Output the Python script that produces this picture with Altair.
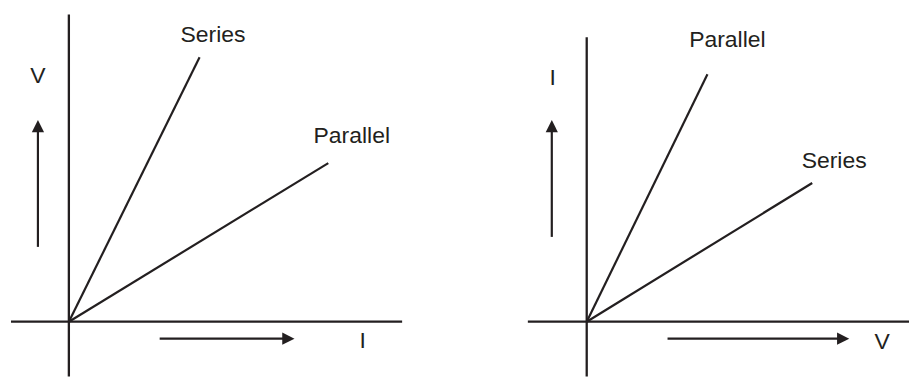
import altair as alt
import pandas as pd

INK = "#231f20"
FONT = "Liberation Sans"

# ---------- left panel: V plotted against I ----------
L_series_I = [0, 13.1]
L_series_V = [0, 26.5]
L_parallel_I = [0, 26.0]
L_parallel_V = [0, 15.9]
L_domain_x = [-6.1, 39.1]
L_domain_y = [-5.5, 31.4]
L_haxis = [-5.8, 33.4]
L_vaxis = [-5.5, 30.8]
L_up_x = -3.1
L_up = [7.5, 20.2]
L_right_y = -1.7
L_right = [9.1, 22.6]
L_labels = ["Series", "Parallel", "V", "I"]
L_label_x = [14.45, 28.35, -3.1, 29.45]
L_label_y = [28.0, 17.9, 23.9, -2.6]

# ---------- right panel: I plotted against V ----------
R_parallel_V = [0, 12.1]
R_parallel_I = [0, 24.8]
R_series_V = [0, 22.6]
R_series_I = [0, 13.9]
R_domain_x = [-12.8, 32.3]
R_domain_y = [-5.5, 31.4]
R_haxis = [-5.9, 32.3]
R_vaxis = [-5.5, 28.5]
R_up_x = -3.5
R_up = [8.5, 20.2]
R_right_y = -1.7
R_right = [8.1, 26.3]
R_labels = ["Parallel", "Series", "I", "V"]
R_label_x = [14.1, 24.8, -3.4, 29.6]
R_label_y = [27.5, 15.4, 23.7, -2.7]

HEAD = 0.6  # half of arrow head, in data units


def panel(line_a, line_b, domx, domy, haxis, vaxis, up_x, up, right_y, right,
          labels, lx, ly, width, height):
    sx = alt.Scale(domain=domx, nice=False, zero=False)
    sy = alt.Scale(domain=domy, nice=False, zero=False)
    X = lambda f: alt.X(f, scale=sx, axis=None)
    Y = lambda f: alt.Y(f, scale=sy, axis=None)

    axes = pd.DataFrame({
        "x": [haxis[0], 0], "x2": [haxis[1], 0],
        "y": [0, vaxis[0]], "y2": [0, vaxis[1]],
    })
    shafts = pd.DataFrame({
        "x": [up_x, right[0]], "x2": [up_x, right[1] - HEAD],
        "y": [up[0], right_y], "y2": [up[1] - HEAD, right_y],
    })
    heads = pd.DataFrame({
        "x": [up_x, right[1] - HEAD],
        "y": [up[1] - HEAD, right_y],
        "dir": ["up", "right"],
    })
    lines = pd.DataFrame({
        "x": list(line_a[0]) + list(line_b[0]),
        "y": list(line_a[1]) + list(line_b[1]),
        "k": ["a", "a", "b", "b"],
    })
    text = pd.DataFrame({"x": lx, "y": ly, "t": labels})

    axis_layer = alt.Chart(axes).mark_rule(color=INK, strokeWidth=2.3).encode(
        x=X("x:Q"), x2="x2:Q", y=Y("y:Q"), y2="y2:Q")
    shaft_layer = alt.Chart(shafts).mark_rule(color=INK, strokeWidth=2.2).encode(
        x=X("x:Q"), x2="x2:Q", y=Y("y:Q"), y2="y2:Q")
    up_head = alt.Chart(heads).transform_filter(alt.datum.dir == "up").mark_point(
        shape="M0,-1L1,1L-1,1Z", filled=True, size=150, color=INK, opacity=1
    ).encode(x=X("x:Q"), y=Y("y:Q"))
    right_head = alt.Chart(heads).transform_filter(alt.datum.dir == "right").mark_point(
        shape="M1,0L-1,-1L-1,1Z", filled=True, size=150, color=INK, opacity=1
    ).encode(x=X("x:Q"), y=Y("y:Q"))
    line_layer = alt.Chart(lines).mark_line(color=INK, strokeWidth=2.2).encode(
        x=X("x:Q"), y=Y("y:Q"), detail="k:N")
    text_layer = alt.Chart(text).mark_text(
        align="center", baseline="alphabetic", font=FONT, fontSize=23, color=INK
    ).encode(x=X("x:Q"), y=Y("y:Q"), text="t:N")

    return alt.layer(axis_layer, line_layer, shaft_layer, up_head, right_head,
                     text_layer).properties(width=width, height=height)


left = panel((L_series_I, L_series_V), (L_parallel_I, L_parallel_V),
             L_domain_x, L_domain_y, L_haxis, L_vaxis, L_up_x, L_up,
             L_right_y, L_right, L_labels, L_label_x, L_label_y, 452, 369)
right = panel((R_parallel_V, R_parallel_I), (R_series_V, R_series_I),
              R_domain_x, R_domain_y, R_haxis, R_vaxis, R_up_x, R_up,
              R_right_y, R_right, R_labels, R_label_x, R_label_y, 451, 369)

chart = alt.hconcat(left, right, spacing=0).properties(
    padding=0, background="white"
).configure_view(stroke=None)

chart.save("out.html", embed_options={"renderer": "svg", "actions": False})
